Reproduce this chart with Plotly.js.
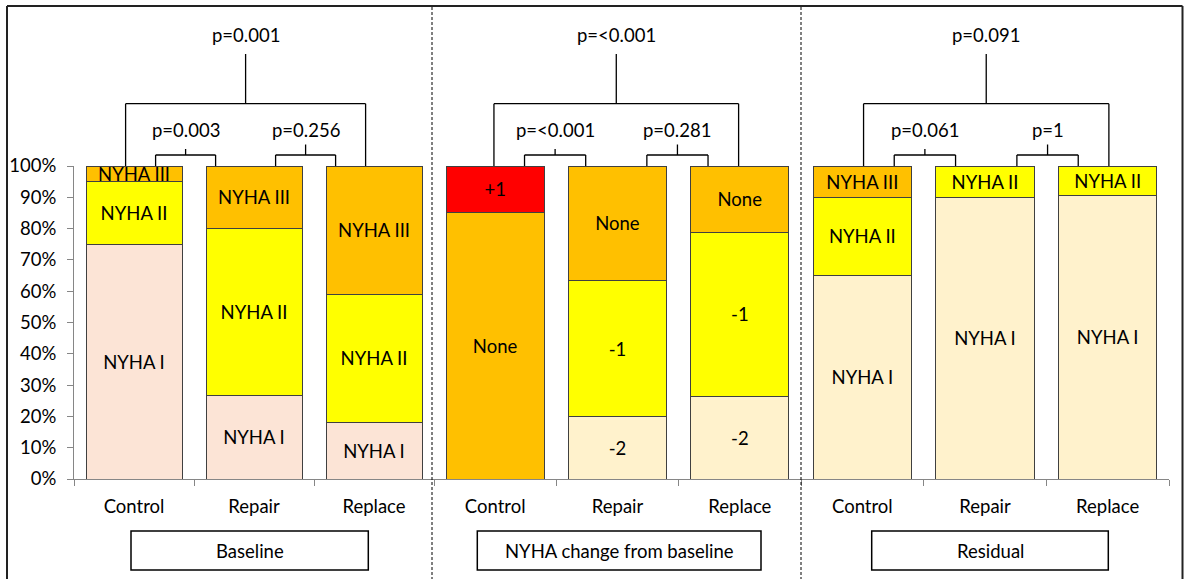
<!DOCTYPE html>
<html><head><meta charset="utf-8">
<script src="https://cdn.plot.ly/plotly-3.0.1.min.js"></script>
<style>html,body{margin:0;padding:0;background:#fff;} #chart{width:1184px;height:579px;}</style>
</head><body><div id="chart"></div>
<script>
// ---- data ----
const categories = ['Control', 'Repair', 'Replace'];
const baselineNYHA1 = [75, 26.7, 18.2];
const baselineNYHA2 = [20, 53.3, 40.9];
const baselineNYHA3 = [5, 20, 40.9];
const changeMinus2 = [0, 20, 26.3];
const changeMinus1 = [0, 43.3, 52.6];
const changeNone = [85, 36.7, 21.1];
const changePlus1 = [15, 0, 0];
const residualNYHA1 = [65, 90, 90.5];
const residualNYHA2 = [25, 10, 9.5];
const residualNYHA3 = [10, 0, 0];
const panelTitles = ['Baseline', 'NYHA change from baseline', 'Residual'];
const overallP = ['p=0.001', 'p=<0.001', 'p=0.091'];
const controlRepairP = ['p=0.003', 'p=<0.001', 'p=0.061'];
const repairReplaceP = ['p=0.256', 'p=0.281', 'p=1'];
const yTickVals = [0, 10, 20, 30, 40, 50, 60, 70, 80, 90, 100];
const yTickText = ['0%', '10%', '20%', '30%', '40%', '50%', '60%', '70%', '80%', '90%', '100%'];

// ---- layout helpers ----
const W = 1184, H = 579, L = 74, R = 15, T = 166, B = 100;
const plotW = W - L - R, plotH = H - T - B;
const px = x => (x - L) / plotW;
const py = y => (H - B - y) / plotH;
const FONT = 'Lato, "Open Sans", "Liberation Sans", sans-serif';
const FS = 18.5;
const axisIds = ['x', 'x2', 'x3'];

function barTrace(axis, name, values, color) {
  return {
    type: 'bar', x: categories, y: values, xaxis: axis, yaxis: 'y', name: name,
    marker: {color: color, line: {color: '#404040', width: 1}},
    text: values.map(v => v > 0 ? name : ''),
    textposition: 'inside', insidetextanchor: 'middle', textangle: 0,
    textfont: {size: FS, color: '#000', family: FONT},
    hoverinfo: 'skip', showlegend: false
  };
}

const data = [
  barTrace('x', 'NYHA I', baselineNYHA1, '#FCE4D6'),
  barTrace('x', 'NYHA II', baselineNYHA2, '#FFFF00'),
  barTrace('x', 'NYHA III', baselineNYHA3, '#FFC000'),
  barTrace('x2', '-2', changeMinus2, '#FFF2CC'),
  barTrace('x2', '-1', changeMinus1, '#FFFF00'),
  barTrace('x2', 'None', changeNone, '#FFC000'),
  barTrace('x2', '+1', changePlus1, '#FF0000'),
  barTrace('x3', 'NYHA I', residualNYHA1, '#FFF2CC'),
  barTrace('x3', 'NYHA II', residualNYHA2, '#FFFF00'),
  barTrace('x3', 'NYHA III', residualNYHA3, '#FFC000')
];

const shapes = [];
const annotations = [];
const LC = '#000';
function seg(xref, x0, y0, x1, y1, w) {
  shapes.push({type: 'line', xref: xref, yref: 'paper', x0: x0, y0: y0, x1: x1, y1: y1,
    line: {color: LC, width: w || 1.3}});
}

const shifts = [-0.07, -0.01, 0.01];
const bigY = py(103.7), bigStemTop = py(54), bigTextY = py(35);
const subY = py(155), subStemTop = [py(149), py(144.5)], subTextY = py(130);
for (let i = 0; i < 3; i++) {
  const xr = axisIds[i], s = shifts[i];
  seg(xr, s, 1, s, bigY);
  seg(xr, s + 2, 1, s + 2, bigY);
  seg(xr, s, bigY, s + 2, bigY);
  seg(xr, s + 1, bigY, s + 1, bigStemTop);
  annotations.push({xref: xr, yref: 'paper', x: s + 1, y: bigTextY, text: overallP[i],
    showarrow: false, xanchor: 'center', yanchor: 'middle', font: {size: FS, color: '#000', family: FONT}});
  const pairTexts = [controlRepairP[i], repairReplaceP[i]];
  for (let k = 0; k < 2; k++) {
    const c = k + 0.5 + s;
    seg(xr, c - 0.25, 1, c - 0.25, subY);
    seg(xr, c + 0.25, 1, c + 0.25, subY);
    seg(xr, c - 0.25, subY, c + 0.25, subY);
    seg(xr, c, subY, c, subStemTop[k]);
    annotations.push({xref: xr, yref: 'paper', x: c, y: subTextY, text: pairTexts[k],
      showarrow: false, xanchor: 'center', yanchor: 'middle', font: {size: FS, color: '#000', family: FONT}});
  }
}

// panel title boxes
const boxes = [[131, 368.3], [477.3, 761], [871.7, 1108.3]];
boxes.forEach((b, i) => {
  shapes.push({type: 'rect', xref: 'paper', yref: 'paper', x0: px(b[0]), x1: px(b[1]),
    y0: py(570), y1: py(531), line: {color: '#000', width: 1.5}, fillcolor: 'rgba(0,0,0,0)'});
  annotations.push({xref: 'paper', yref: 'paper', x: px((b[0] + b[1]) / 2), y: py(551),
    text: panelTitles[i], showarrow: false, xanchor: 'center', yanchor: 'middle',
    font: {size: FS, color: '#000', family: FONT}});
});

// dashed separators
[432, 801].forEach(xp => {
  shapes.push({type: 'line', xref: 'paper', yref: 'paper', x0: px(xp), x1: px(xp),
    y0: py(7), y1: py(600), line: {color: '#000', width: 1, dash: '3px,2px'}});
});

// outer frame (top, left, right)
const frame = {color: '#222', width: 2};
shapes.push({type: 'line', xref: 'paper', yref: 'paper', x0: px(7), x1: px(1182.5), y0: py(6), y1: py(6), line: frame});
shapes.push({type: 'line', xref: 'paper', yref: 'paper', x0: px(7), x1: px(7), y0: py(6), y1: py(600), line: frame});
shapes.push({type: 'line', xref: 'paper', yref: 'paper', x0: px(1182.5), x1: px(1182.5), y0: py(6), y1: py(600), line: frame});

const xDomains = [[0, px(434)], [px(434), px(801)], [px(801), 1]];
function xAxis(i) {
  return {
    domain: xDomains[i], anchor: 'y', type: 'category', range: [-0.5, 2.5],
    showline: true, linecolor: '#868686', linewidth: 1,
    ticks: 'outside', tickson: 'boundaries', ticklen: 6, tickcolor: '#868686',
    showgrid: false, zeroline: false, fixedrange: true,
    tickfont: {size: FS, color: '#000', family: FONT}, ticklabelstandoff: 11
  };
}

const layout = {
  width: W, height: H,
  margin: {l: L, r: R, t: T, b: B, pad: 0},
  paper_bgcolor: '#fff', plot_bgcolor: '#fff',
  barmode: 'stack', bargap: 0.2,
  uniformtext: {mode: 'show', minsize: FS},
  font: {family: FONT, size: FS, color: '#000'},
  showlegend: false,
  xaxis: xAxis(0), xaxis2: xAxis(1), xaxis3: xAxis(2),
  yaxis: {
    domain: [0, 1], range: [0, 100], tickmode: 'array', tickvals: yTickVals, ticktext: yTickText,
    showline: true, linecolor: '#868686', linewidth: 1,
    ticks: 'outside', ticklen: 6, tickcolor: '#868686',
    showgrid: false, zeroline: false, fixedrange: true,
    tickfont: {size: FS, color: '#000', family: FONT}, ticklabelstandoff: 7
  },
  shapes: shapes,
  annotations: annotations
};

Plotly.newPlot('chart', data, layout, {displayModeBar: false, staticPlot: true});
</script>
</body></html>
